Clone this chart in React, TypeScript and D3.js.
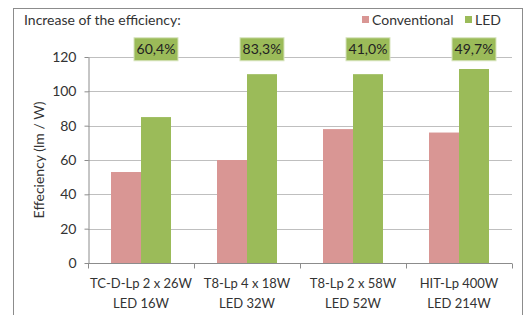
import { useRef, useEffect } from "react";
import * as d3 from "d3";

const categories = ["TC-D-Lp 2 x 26W|LED 16W", "T8-Lp 4 x 18W|LED 32W", "T8-Lp 2 x 58W|LED 52W", "HIT-Lp 400W|LED 214W"];
const conventional = [53, 60, 78, 76];
const led = [85, 110, 110, 113];
const increase = ["60,4%", "83,3%", "41,0%", "49,7%"];
const yTicks = [0, 20, 40, 60, 80, 100, 120];

const FONT = "Lato, 'Open Sans', sans-serif";
const PINK = "#D99694";
const GREEN = "#9BBB59";

function App() {
  const svgRef = useRef<SVGSVGElement>(null);

  useEffect(() => {
    const W = 528;
    const H = 315;
    const left = 88;
    const right = 512;
    const top = 57;
    const bottom = 263;

    const svg = d3.select(svgRef.current);
    svg.selectAll("*").remove();
    svg.attr("width", W).attr("height", H).style("font-family", FONT);

    // outer frame
    svg.append("rect")
      .attr("x", 13.5).attr("y", 8.5)
      .attr("width", 509).attr("height", 320)
      .attr("fill", "white").attr("stroke", "#8c8c8c");

    const x = d3.scaleBand().domain(categories).range([left, right]);
    const y = d3.scaleLinear().domain([0, 120]).range([bottom, top]);
    const barW = 30;

    // gridlines
    svg.append("g").selectAll("line")
      .data(yTicks.filter(d => d > 0))
      .join("line")
      .attr("x1", left).attr("x2", right)
      .attr("y1", d => Math.round(y(d)) + 0.5).attr("y2", d => Math.round(y(d)) + 0.5)
      .attr("stroke", "#bfbfbf");

    // bars
    const g = svg.append("g");
    g.selectAll(".conv")
      .data(conventional)
      .join("rect")
      .attr("x", (d, i) => x(categories[i])! + x.bandwidth() / 2 - barW)
      .attr("y", d => y(d))
      .attr("width", barW)
      .attr("height", d => bottom - y(d))
      .attr("fill", PINK);
    g.selectAll(".led")
      .data(led)
      .join("rect")
      .attr("x", (d, i) => x(categories[i])! + x.bandwidth() / 2)
      .attr("y", d => y(d))
      .attr("width", barW)
      .attr("height", d => bottom - y(d))
      .attr("fill", GREEN);

    // y axis
    const yAxis = d3.axisLeft(y).tickValues(yTicks).tickSize(4).tickSizeOuter(0).tickPadding(8);
    const ya = svg.append("g").attr("transform", `translate(${left + 0.5},0)`).call(yAxis);
    ya.select(".domain").attr("stroke", "#8c8c8c");
    ya.selectAll(".tick line").attr("stroke", "#8c8c8c");
    ya.selectAll(".tick text").attr("font-size", 14).attr("fill", "#333").style("font-family", FONT);

    // x axis
    const xa = svg.append("g").attr("transform", `translate(0,${bottom + 0.5})`);
    xa.append("line").attr("x1", left).attr("x2", right).attr("stroke", "#8c8c8c");
    xa.selectAll(".tk")
      .data([...categories.map(c => x(c)!), right])
      .join("line")
      .attr("x1", d => Math.round(d) + 0.5).attr("x2", d => Math.round(d) + 0.5)
      .attr("y1", 0).attr("y2", 5)
      .attr("stroke", "#8c8c8c");
    categories.forEach(c => {
      const lines = c.split("|");
      const t = xa.append("text")
        .attr("x", x(c)! + x.bandwidth() / 2)
        .attr("text-anchor", "middle")
        .attr("font-size", 13).attr("fill", "#333");
      lines.forEach((l, i) => {
        t.append("tspan").attr("x", x(c)! + x.bandwidth() / 2).attr("y", 24 + i * 20).text(l);
      });
    });

    // y label
    svg.append("text")
      .attr("transform", `translate(44,${(top + bottom) / 2}) rotate(-90)`)
      .attr("text-anchor", "middle")
      .attr("font-size", 14).attr("fill", "#333")
      .text("Effeciency (lm / W)");

    // percent labels
    const lab = svg.append("g");
    increase.forEach((p, i) => {
      const cx = x(categories[i])! + x.bandwidth() / 2 + barW / 2;
      const cy = y(124.5);
      lab.append("rect")
        .attr("x", cx - 22).attr("y", cy - 11.5)
        .attr("width", 44).attr("height", 23)
        .attr("fill", GREEN).attr("stroke", "#d7e4bd");
      lab.append("text")
        .attr("x", cx).attr("y", cy + 5)
        .attr("text-anchor", "middle")
        .attr("font-size", 14).attr("fill", "#222")
        .text(p);
    });

    // title
    svg.append("text").attr("x", 24).attr("y", 25)
      .attr("font-size", 14).attr("fill", "#333")
      .text("Increase of the efficiency:");

    // legend
    const legend = [{ name: "Conventional", color: PINK, x: 362 }, { name: "LED", color: GREEN, x: 465 }];
    legend.forEach(l => {
      svg.append("rect").attr("x", l.x).attr("y", 16).attr("width", 7).attr("height", 7).attr("fill", l.color);
      svg.append("text").attr("x", l.x + 10).attr("y", 25)
        .attr("font-size", 14).attr("fill", "#333").text(l.name);
    });
  }, []);

  return (
    <svg ref={svgRef} style={{ position: "absolute", left: 0, top: 0 }} />
  );
}

export default App;
